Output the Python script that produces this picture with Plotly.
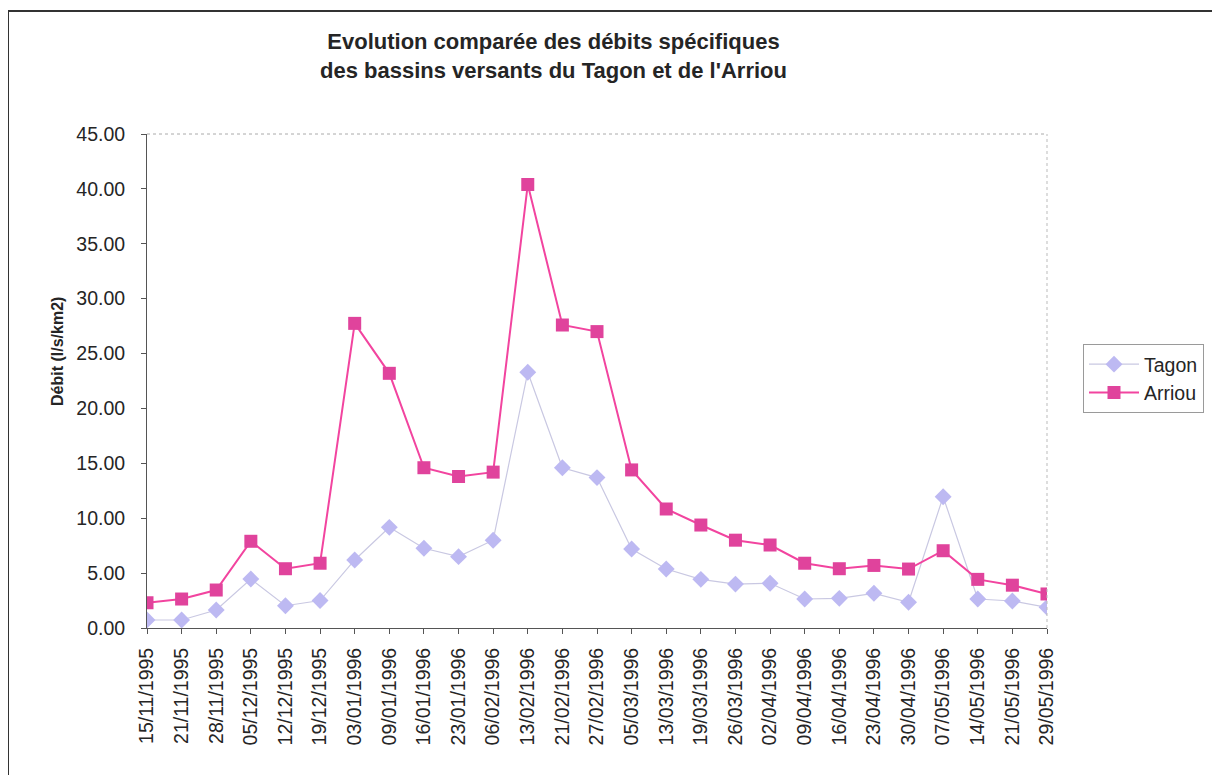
import plotly.graph_objects as go

dates = ["15/11/1995", "21/11/1995", "28/11/1995", "05/12/1995", "12/12/1995",
         "19/12/1995", "03/01/1996", "09/01/1996", "16/01/1996", "23/01/1996",
         "06/02/1996", "13/02/1996", "21/02/1996", "27/02/1996", "05/03/1996",
         "13/03/1996", "19/03/1996", "26/03/1996", "02/04/1996", "09/04/1996",
         "16/04/1996", "23/04/1996", "30/04/1996", "07/05/1996", "14/05/1996",
         "21/05/1996", "29/05/1996"]

tagon = [0.73, 0.73, 1.64, 4.46, 2.03, 2.5, 6.2, 9.17, 7.26, 6.5,
         8.0, 23.3, 14.6, 13.7, 7.2, 5.37, 4.43, 4.0, 4.07, 2.64,
         2.7, 3.16, 2.34, 11.96, 2.64, 2.46, 1.88]

arriou = [2.3, 2.64, 3.46, 7.9, 5.4, 5.9, 27.75, 23.2, 14.6, 13.8,
          14.2, 40.4, 27.6, 27.0, 14.4, 10.84, 9.38, 8.0, 7.56, 5.9,
          5.4, 5.7, 5.37, 7.04, 4.43, 3.9, 3.1]

y_ticks = [0, 5, 10, 15, 20, 25, 30, 35, 40, 45]

OFF = 8  # page body margin
W, H = 1220 - OFF, 775 - OFF
L, R, T, B = 147 - OFF, 1047 - OFF, 134 - OFF, 628 - OFF  # plot area in figure pixels
pw, ph = R - L, B - T

def px_x(x):
    return (x - OFF - L) / pw

def px_y(y):
    return (B - (y - OFF)) / ph

FONT = "Arial, Liberation Sans, sans-serif"

fig = go.Figure()
fig.add_trace(go.Scatter(
    x=dates, y=tagon, name="Tagon", mode="lines+markers",
    line=dict(color="#c9c8e2", width=1.2),
    marker=dict(symbol="diamond", size=13, color="#bdb9f2",
                line=dict(color="#bdb9f2", width=0)),
))
fig.add_trace(go.Scatter(
    x=dates, y=arriou, name="Arriou", mode="lines+markers",
    line=dict(color="#f2449f", width=2),
    marker=dict(symbol="square", size=13, color="#e0439c",
                line=dict(color="#e0439c", width=0)),
))

fig.update_layout(
    width=W, height=H,
    margin=dict(l=L, r=W - R, t=T, b=H - B, pad=0),
    paper_bgcolor="white", plot_bgcolor="white",
    font=dict(family=FONT, color="#252525", size=19),
    showlegend=True,
    legend=dict(
        x=px_x(1083), y=px_y(344), xanchor="left", yanchor="top",
        bgcolor="white", bordercolor="#9a9a9a", borderwidth=1,
        font=dict(family=FONT, size=19.5, color="#252525"),
        itemwidth=50, tracegroupgap=0,
    ),
    xaxis=dict(
        type="category", range=[0, len(dates) - 1],
        tickmode="array", tickvals=dates, ticktext=dates,
        tickangle=-90, tickfont=dict(size=19.5, family=FONT, color="#252525"),
        showline=True, linecolor="#555555", linewidth=1,
        ticks="outside", ticklen=5, tickcolor="#555555",
        showgrid=False, zeroline=False, ticklabelstandoff=6,
    ),
    yaxis=dict(
        range=[0, 45], tickmode="array", tickvals=y_ticks,
        tickformat=".2f", tickfont=dict(size=19.5, family=FONT, color="#252525"),
        showline=True, linecolor="#555555", linewidth=1,
        ticks="outside", ticklen=5, tickcolor="#555555",
        showgrid=False, zeroline=False, ticklabelstandoff=12,
    ),
    annotations=[
        dict(text="Evolution comparée des débits spécifiques<br>des bassins versants du Tagon et de l'Arriou",
             xref="paper", yref="paper", x=px_x(553), y=px_y(56),
             xanchor="center", yanchor="middle", showarrow=False,
             font=dict(family=FONT, size=22, color="#252525", weight="bold")),
        dict(text="Débit (l/s/km2)", textangle=-90,
             xref="paper", yref="paper", x=px_x(57), y=px_y(352),
             xanchor="center", yanchor="middle", showarrow=False,
             font=dict(family=FONT, size=16, color="#252525", weight="bold")),
    ],
    shapes=[
        # dotted top and right borders of plot area
        dict(type="line", xref="paper", yref="paper", x0=0, x1=1, y0=1, y1=1,
             line=dict(color="#aaaaaa", width=1, dash="dot")),
        dict(type="line", xref="paper", yref="paper", x0=1, x1=1, y0=0, y1=1,
             line=dict(color="#bbbbbb", width=1, dash="dot")),
        # outer chart border (left and top visible)
        dict(type="rect", xref="paper", yref="paper",
             x0=px_x(8), x1=px_x(1240), y0=px_y(11), y1=px_y(800),
             line=dict(color="#333333", width=2), layer="below"),
    ],
)

fig.write_html("out.html")
